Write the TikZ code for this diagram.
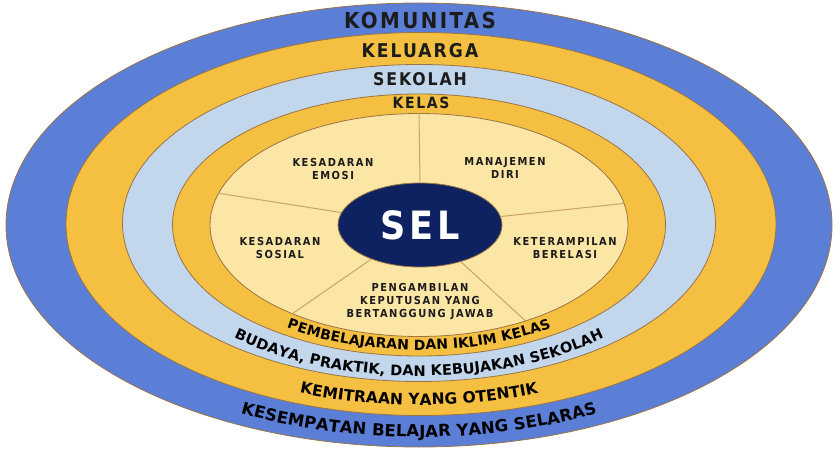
\documentclass[tikz,border=0pt]{standalone}
\usepackage{fontspec}
\setmainfont{DejaVu Sans Condensed}
\newfontfamily\widefont{DejaVu Sans}
\usepackage{tikz}
\usetikzlibrary{shapes.geometric}
\usetikzlibrary{decorations.text}

\definecolor{ringblue}{HTML}{5B7ED6}
\definecolor{ringgold}{HTML}{F5C042}
\definecolor{ringsky}{HTML}{C2D6EC}
\definecolor{corecream}{HTML}{FCE6A5}
\definecolor{selnavy}{HTML}{0E2160}
\definecolor{rimbrown}{HTML}{9A7444}
\definecolor{spoketan}{HTML}{C9A468}
\definecolor{inkdark}{HTML}{1C1C1C}

\newcommand{\ringfont}[1]{\bfseries\fontsize{#1}{#1}\selectfont\addfontfeature{LetterSpace=11}}
\newcommand{\arcfontkelas}{\widefont\bfseries\fontsize{14}{14}\selectfont}
\newcommand{\arcfontsekolah}{\widefont\bfseries\fontsize{14.5}{14.5}\selectfont}
\newcommand{\arcfontkeluarga}{\widefont\bfseries\fontsize{15.5}{15.5}\selectfont}
\newcommand{\arcfontkomunitas}{\widefont\bfseries\fontsize{16.5}{16.5}\selectfont}

\begin{document}
\begin{tikzpicture}
  [x=1pt,y=1pt,
   ring/.style={ellipse,draw=rimbrown,line width=.8pt,inner sep=0pt},
   ringlabel/.style={text=inkdark,inner sep=0pt},
   corelabel/.style={text=inkdark,align=center,inner sep=0pt,
     font=\bfseries\fontsize{11}{13}\selectfont\addfontfeature{LetterSpace=14}},
   spoke/.style={draw=spoketan,line width=1pt},
   arclabel/.style={decorate,decoration={text along path,text align=center,raise=-5pt}}]
  \useasboundingbox (0,0) rectangle (840,450);

  % rings, outside in
  \node[ring,fill=ringblue,minimum width=826pt,minimum height=444pt] (komunitas) at (419,225) {};
  \node[ring,fill=ringgold,minimum width=710pt,minimum height=383pt] (keluarga) at (421,226) {};
  \node[ring,fill=ringsky,minimum width=593pt,minimum height=317pt] (sekolah) at (419,227) {};
  \node[ring,fill=ringgold,minimum width=493pt,minimum height=262pt] (kelas) at (419,225) {};
  \node[ring,fill=corecream,minimum width=418pt,minimum height=223pt] (core) at (419,225) {};

  \node[ring,fill=selnavy,minimum width=164pt,minimum height=84pt,
        text=white,font=\bfseries\fontsize{39}{39}\selectfont\addfontfeature{LetterSpace=10}] (sel) at (420,225) {SEL};
  \foreach \ang in {90,6,318,215,171}
    \draw[spoke] (sel.\ang) -- (core.\ang);

  % ring names on top
  \node[ringlabel,font=\ringfont{22}] (komunitastxt) at (420,430) {KOMUNITAS};
  \node[ringlabel,font=\ringfont{19}] (keluargatxt) at (420,399) {KELUARGA};
  \node[ringlabel,font=\ringfont{17.5}] (sekolahtxt) at (420,371) {SEKOLAH};
  \node[ringlabel,font=\ringfont{15.5}] (kelastxt) at (421,347) {KELAS};

  % five competences
  \node[corelabel] (emosi) at (333,281) {KESADARAN\\EMOSI};
  \node[corelabel] (diri) at (505,282) {MANAJEMEN\\DIRI};
  \node[corelabel] (sosial) at (280,202) {KESADARAN\\SOSIAL};
  \node[corelabel] (relasi) at (565,202) {KETERAMPILAN\\BERELASI};
  \node[corelabel] (keputusan) at (420,148) {PENGAMBILAN\\KEPUTUSAN YANG\\BERTANGGUNG JAWAB};

  % ring names along the bottom
  \path[arclabel,decoration={text={|\arcfontkelas|PEMBELAJARAN DAN IKLIM KELAS}}]
    (419,225) ++(190:227 and 120) arc[start angle=190,end angle=350,x radius=227,y radius=120];
  \path[arclabel,decoration={text={|\arcfontsekolah|BUDAYA, PRAKTIK, DAN KEBUJAKAN SEKOLAH}}]
    (419,225) ++(190:273 and 146) arc[start angle=190,end angle=350,x radius=273,y radius=146];
  \path[arclabel,decoration={text={|\arcfontkeluarga|KEMITRAAN YANG OTENTIK}}]
    (419,225) ++(190:326 and 175) arc[start angle=190,end angle=350,x radius=326,y radius=175];
  \path[arclabel,decoration={text={|\arcfontkomunitas|KESEMPATAN BELAJAR YANG SELARAS}}]
    (419,225) ++(190:384 and 207) arc[start angle=190,end angle=350,x radius=384,y radius=207];
\end{tikzpicture}
\end{document}
